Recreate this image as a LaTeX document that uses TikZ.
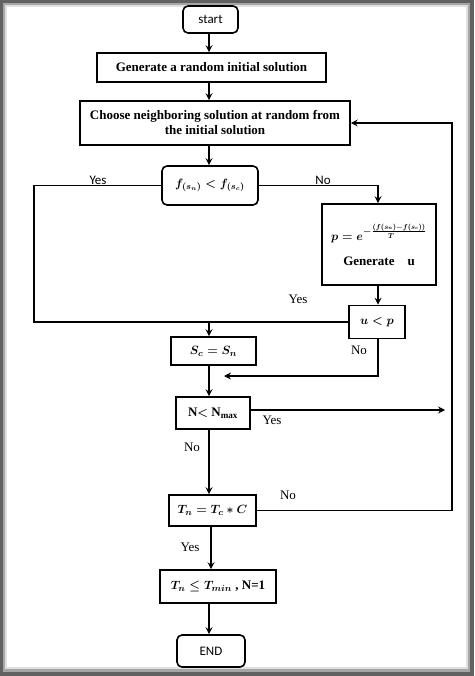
\documentclass[tikz,border=0pt]{standalone}
\usepackage{fontspec}
\usepackage{amsmath}
\setmainfont{Liberation Serif}
\newfontfamily\calib{Carlito}
\usetikzlibrary{arrows.meta}
\begin{document}
\begin{tikzpicture}[x=1pt,y=-1pt,
  box/.style={draw, line width=1.6pt, inner sep=0pt, align=center,
    font=\fontsize{13}{15}\selectfont\bfseries\boldmath},
  term/.style={box, rounded corners=5pt, font=\calib\fontsize{13}{15}\selectfont},
  conn/.style={line width=1.6pt},
  arr/.style={conn, -{Stealth[length=7pt,width=7pt,inset=2.5pt]}},
  lab/.style={inner sep=0pt, font=\fontsize{13}{15}\selectfont},
  slab/.style={inner sep=0pt, font=\calib\fontsize{13}{15}\selectfont}]
\useasboundingbox (0,0) rectangle (474,676);
\fill[black!62] (0,0) rectangle (474,676);
\fill[black!35] (3,3) rectangle (470,672);
\fill[black!12] (5,5) rectangle (468,669);
\fill[white] (7,7) rectangle (466,667);

\node[term, minimum width=55pt, minimum height=27pt] (start) at (210.5,19.5) {start};
\node[box, minimum width=229pt, minimum height=29pt] (gen) at (211.5,67.5) {Generate a random initial solution};
\node[box, minimum width=270pt, minimum height=44pt] (choose) at (215,123) {Choose neighboring solution at random from\\the initial solution};
\node[box, rounded corners=5pt, minimum width=96pt, minimum height=39pt] (fbox) at (210,185.5) {$f_{(s_n)} < f_{(s_c)}$};
\node[box, minimum width=114pt, minimum height=81pt] (pbox) at (379,244.5) {$p = e^{-\genfrac{}{}{0.4pt}{1}{\scalebox{0.8}{$\scriptstyle (f(s_n)-f(s_c))$}}{\scalebox{0.8}{$\scriptstyle T$}}}$\\[10pt]Generate\quad u};
\node[box, minimum width=56pt, minimum height=33pt] (up) at (377,322) {$u < p$};
\node[box, minimum width=85pt, minimum height=28pt] (sc) at (213.5,351) {$S_c = S_n$};
\node[box, minimum width=74pt, minimum height=32pt] (nbox) at (213,413) {N$<$ N$_{\mathrm{max}}$};
\node[box, minimum width=87pt, minimum height=31pt] (tn) at (212.5,510.5) {$T_n = T_c * C$};
\node[box, minimum width=116pt, minimum height=33pt] (tmin) at (218,586.5) {$T_n \le T_{min}$ , N=1};
\node[term, minimum width=68pt, minimum height=32pt] (end) at (211,651) {END};

\coordinate (mx) at (209,0);
\coordinate (lx) at (34,0);
\coordinate (rx) at (452,0);
\coordinate (m1) at (224,376);
\coordinate (ny) at (445,410);

\draw[arr] (start.south -| mx) -- (gen.north -| mx);
\draw[arr] (gen.south -| mx) -- (choose.north -| mx);
\draw[arr] (choose.south -| mx) -- (fbox.north -| mx);
\draw[conn] (fbox.west) -| (lx |- up.west) -- (up.west);
\draw[arr] (mx |- up.west) -- (sc.north -| mx);
\draw[arr] (fbox.east) -| (pbox.north -| 378,0);
\draw[arr] (pbox.south -| 378,0) -- (up.north -| 378,0);
\draw[arr] (up.south -| 378,0) |- (m1);
\draw[arr] (sc.south -| mx) -- (nbox.north -| mx);
\draw[arr] (nbox.east |- ny) -- (ny);
\draw[arr] (nbox.south -| mx) -- (tn.north -| mx);
\draw[arr] (tn.east) -| (rx |- choose.east) -- (choose.east);
\draw[arr] (tn.south -| 211,0) -- (tmin.north -| 211,0);
\draw[arr] (tmin.south -| mx) -- (end.north -| mx);

\node[slab] (l1) at (98,180) {Yes};
\node[slab] (l2) at (323,180) {No};
\node[lab] (l3) at (298,299) {Yes};
\node[lab] (l4) at (359,350) {No};
\node[lab] (l5) at (272,420) {Yes};
\node[lab] (l6) at (192,447) {No};
\node[lab] (l7) at (288,495) {No};
\node[lab] (l8) at (190,547) {Yes};
\end{tikzpicture}
\end{document}
